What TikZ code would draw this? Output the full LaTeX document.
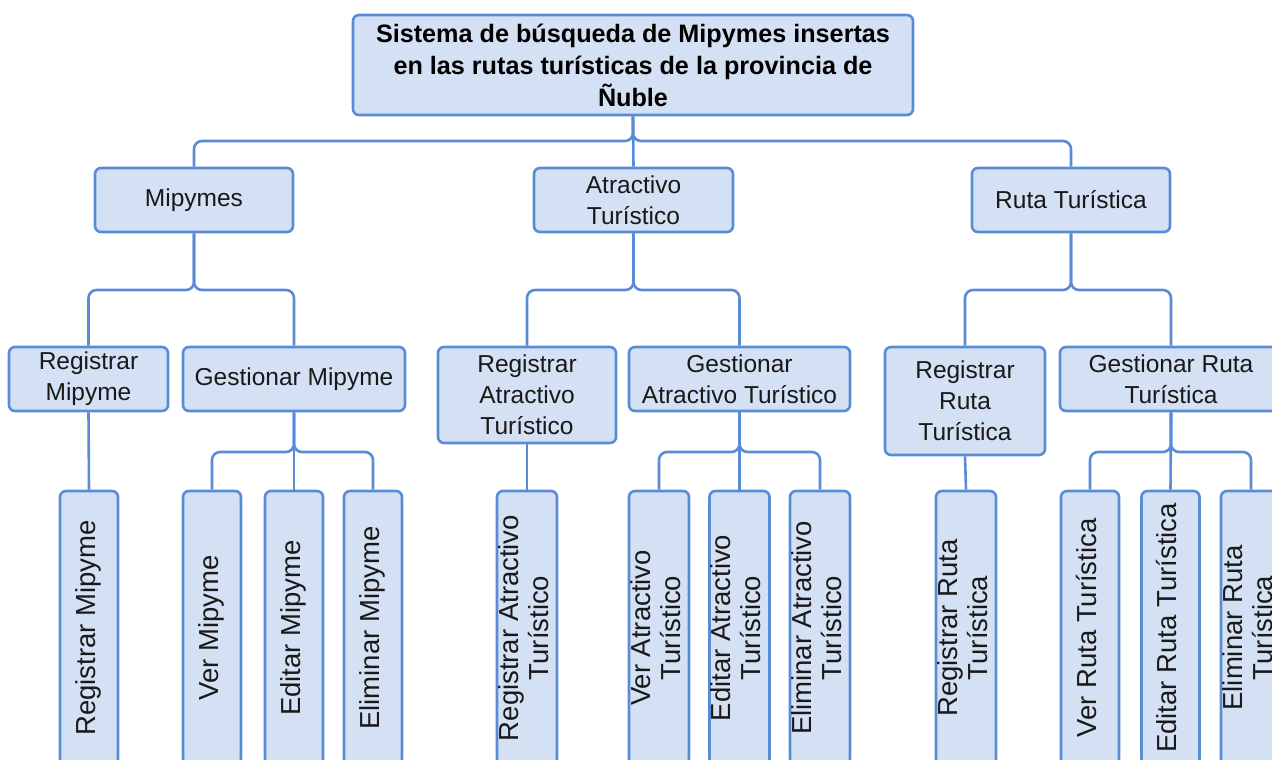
\documentclass[tikz,border=0pt]{standalone}
\usepackage{fontspec}
\setmainfont{Liberation Sans}
\usepackage{graphicx}
\usetikzlibrary{calc}
\definecolor{bline}{HTML}{5A8CD6}
\definecolor{bfill}{HTML}{D4E0F3}
\newcommand{\vlab}[1]{\rotatebox{90}{\begin{tabular}{@{}c@{}}#1\end{tabular}}}
\begin{document}
\begin{tikzpicture}[x=1pt,y=-1pt,
  box/.style={draw=bline, fill=bfill, line width=2.6pt, rounded corners=6pt, inner sep=0pt, align=center, text=black!90},
  conn/.style={draw=bline, line width=2.6pt, rounded corners=8pt},
  hfont/.style={font=\fontsize{24.5}{31}\selectfont},
  vfont/.style={font=\fontsize{27.5}{30}\selectfont},
  lvone/.style={box, hfont, minimum height=64pt},
  leaf/.style={box, vfont, minimum width=58pt, minimum height=274pt}
]
\useasboundingbox (0,0) rectangle (1272,760);
\clip (0,0) rectangle (1272,760);

% bus levels
\coordinate (b0) at (633,141);
\coordinate (b1) at (633,290);
\coordinate (b2) at (633,452);

% root
\node[box, minimum width=560pt, minimum height=100pt, text=black, font=\bfseries\fontsize{25.2}{32}\selectfont] (root) at (633,65)
  {Sistema de búsqueda de Mipymes insertas\\en las rutas turísticas de la provincia de\\Ñuble};

% level 1
\node[lvone, minimum width=198pt] (m) at (194,200) {Mipymes};
\node[lvone, minimum width=199pt] (a) at (633.5,200) {Atractivo\\Turístico};
\node[lvone, minimum width=198pt] (r) at (1071,200) {Ruta Turística};

% level 2
\node[lvone, minimum width=159pt] (rm) at (88.5,379) {Registrar\\Mipyme};
\node[lvone, minimum width=222pt] (gm) at (294,379) {Gestionar Mipyme};
\node[box, hfont, minimum width=178pt, minimum height=96pt] (ra) at (527,395) {Registrar\\Atractivo\\Turístico};
\node[lvone, minimum width=221pt] (ga) at (739.5,379) {Gestionar\\Atractivo Turístico};
\node[box, hfont, minimum width=160pt, minimum height=108pt] (rr) at (965,401) {Registrar\\Ruta\\Turística};
\node[lvone, minimum width=222pt] (gr) at (1171,379) {Gestionar Ruta\\Turística};

% level 3
\node[leaf] (rm1) at (89,628) {\vlab{Registrar Mipyme}};
\node[leaf] (gm1) at (212,628) {\vlab{Ver Mipyme}};
\node[leaf] (gm2) at (294,628) {\vlab{Editar Mipyme}};
\node[leaf] (gm3) at (373,628) {\vlab{Eliminar Mipyme}};
\node[leaf] (ra1) at (527,628) {\vlab{Registrar Atractivo\\Turístico}};
\node[leaf] (ga1) at (659,628) {\vlab{Ver Atractivo\\Turístico}};
\node[leaf] (ga2) at (739.5,628) {\vlab{Editar Atractivo\\Turístico}};
\node[leaf] (ga3) at (820,628) {\vlab{Eliminar Atractivo\\Turístico}};
\node[leaf] (rr1) at (966,628) {\vlab{Registrar Ruta\\Turística}};
\node[leaf] (gr1) at (1090,628) {\vlab{Ver Ruta Turística}};
\node[leaf] (gr2) at (1170.5,628) {\vlab{Editar Ruta Turística}};
\node[leaf] (gr3) at (1251,628) {\vlab{Eliminar Ruta\\Turística}};

% connectors root -> level 1
\draw[conn] (root.south) |- (m.north |- b0) -- (m.north);
\draw[conn] (root.south) |- (r.north |- b0) -- (r.north);
\draw[conn] (root.south) -- (a.north);

% level 1 -> level 2
\draw[conn] (m.south) |- (rm.north |- b1) -- (rm.north);
\draw[conn] (m.south) |- (gm.north |- b1) -- (gm.north);
\draw[conn] (a.south) |- (ra.north |- b1) -- (ra.north);
\draw[conn] (a.south) |- (ga.north |- b1) -- (ga.north);
\draw[conn] (r.south) |- (rr.north |- b1) -- (rr.north);
\draw[conn] (r.south) |- (gr.north |- b1) -- (gr.north);

% level 2 -> level 3
\draw[conn] (rm.south) -- (rm1.north);
\draw[conn] (gm.south) |- (gm1.north |- b2) -- (gm1.north);
\draw[conn] (gm.south) |- (gm3.north |- b2) -- (gm3.north);
\draw[conn] (gm.south) -- (gm2.north);
\draw[conn] (ra.south) -- (ra1.north);
\draw[conn] (ga.south) |- (ga1.north |- b2) -- (ga1.north);
\draw[conn] (ga.south) |- (ga3.north |- b2) -- (ga3.north);
\draw[conn] (ga.south) -- (ga2.north);
\draw[conn] (rr.south) -- (rr1.north);
\draw[conn] (gr.south) |- (gr1.north |- b2) -- (gr1.north);
\draw[conn] (gr.south) |- (gr3.north |- b2) -- (gr3.north);
\draw[conn] (gr.south) -- (gr2.north);
\end{tikzpicture}
\end{document}
